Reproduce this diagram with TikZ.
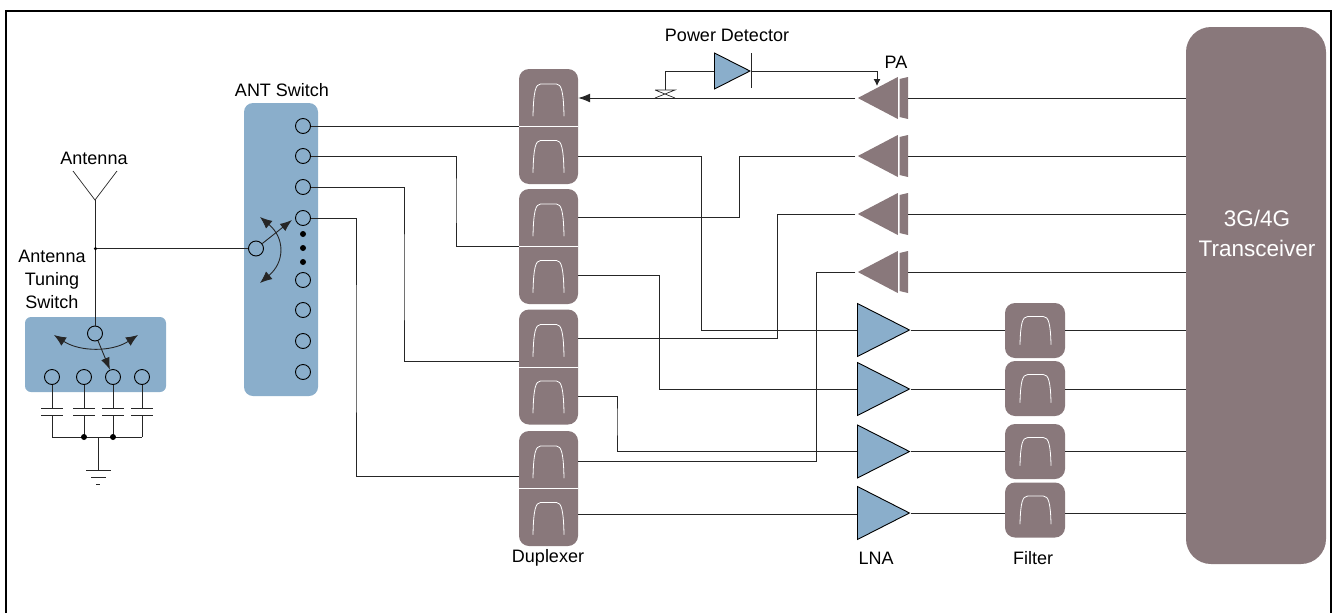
\documentclass[tikz,border=0pt]{standalone}
\usepackage{fontspec}
\setmainfont{Liberation Sans}
\usetikzlibrary{arrows.meta,shapes.geometric,calc}
\definecolor{swblue}{HTML}{8AAECB}
\definecolor{chipgray}{HTML}{89787B}
\begin{document}
\begin{tikzpicture}[x=1pt,y=-1pt,
    wire/.style={draw=black!85,line width=0.9pt},
    arr/.style={wire,-{Latex[length=12pt,width=9pt]}},
    swarr/.style={wire,{Latex[length=12pt,width=10pt]}-{Latex[length=12pt,width=10pt]}},
    lbl/.style={inner sep=0pt,font=\fontsize{18}{23}\selectfont,align=center},
    pin/.style={circle,draw=black,line width=0.9pt,inner sep=0pt,minimum size=15pt},
    junc/.style={circle,fill=black,inner sep=0pt,minimum size=#1},
    swbox/.style={draw=none,fill=swblue,rounded corners=6pt,inner sep=0pt},
    chip/.style={draw=none,fill=chipgray,rounded corners=10pt,inner sep=0pt,minimum width=59pt},
    lna/.style={isosceles triangle,isosceles triangle stretches,draw=black,line width=0.9pt,fill=swblue,inner sep=0pt,minimum width=53pt,minimum height=52pt},
    pa/.style={isosceles triangle,isosceles triangle stretches,shape border rotate=180,fill=chipgray,inner sep=0pt,minimum width=42pt,minimum height=40pt},
    bandpass/.pic={\draw[white,line width=0.8pt,line cap=round] (-15.5,16) .. controls (-15,-8) and (-13,-16) .. (-8,-16) -- (8,-16) .. controls (13,-16) and (15,-8) .. (15.5,16);}]
  \useasboundingbox (0,0) rectangle (1332,613);
  \draw[line width=2pt] (6,613) -- (6,11) -- (1330.5,11) -- (1330.5,613);

  % antenna and tuning switch
  \node[swbox,minimum width=141pt,minimum height=75pt] (tunebox) at (95.5,354.5) {};
  \node[pin] (tunepole) at (95,333.5) {};
  \foreach \i/\x in {1/52,2/84,3/113,4/142} {
    \node[pin] (tune\i) at (\x,377) {};
    \coordinate (capa\i) at (\x,408);
    \coordinate (capb\i) at (\x,415);
    \draw[wire] (tune\i) -- (capa\i);
    \draw[wire] ($(capa\i)+(-11,0)$) -- ($(capa\i)+(11,0)$);
    \draw[wire] ($(capb\i)+(-11,0)$) -- ($(capb\i)+(11,0)$);
    \coordinate (bus\i) at (\x,437);
    \draw[wire] (capb\i) -- (bus\i);
  }
  \draw[wire] (bus1) -- (bus4);
  \node[junc=6pt] (busj2) at (bus2) {};
  \node[junc=6pt] (busj3) at (bus3) {};
  \coordinate (gnd) at (98.5,470);
  \draw[wire] (98.5,437) -- (gnd);
  \draw[wire] (86,470) -- (111,470);
  \draw[wire] (91,477) -- (106,477);
  \draw[wire] (96,484) -- (100,484);
  \draw[arr] (tunepole) -- (tune3);
  \draw[swarr] (54,335) .. controls (80,352) and (112,352) .. (138,335);
  \coordinate (antfeed) at (95,200);
  \draw[wire,line width=0.7pt] (73,171) -- (antfeed) -- (117,171);
  \draw[wire] (antfeed) -- (tunepole);
  \node[junc=3.5pt] (antj) at (95.5,248.5) {};
  \node[lbl] (antlbl) at (94,158) {Antenna};
  \node[lbl] (tunelbl) at (52,279) {Antenna\\Tuning\\Switch};

  % ANT switch
  \node[swbox,minimum width=74pt,minimum height=293pt,rounded corners=9pt] (antbox) at (281,249.5) {};
  \foreach \i/\y in {1/126,2/156,3/187,4/218,5/280,6/310,7/341,8/372}
    \node[pin] (ant\i) at (303,\y) {};
  \foreach \y in {234,248,262}
    \node[junc=6pt] (antdot\y) at (303,\y) {};
  \node[pin] (antpole) at (256,248.5) {};
  \draw[wire] (antj) -- (antpole);
  \draw[arr] (antpole) -- (292,220);
  \draw[swarr] (260,217) .. controls (285,238) and (285,262) .. (260,283);
  \node[lbl] (antswlbl) at (282,90) {ANT Switch};

  % duplexers
  \foreach \i/\y in {1/126.5,2/246.5,3/367,4/488.5} {
    \node[chip,minimum height=115pt] (dup\i) at (548.5,\y) {};
    \draw[white,line width=0.9pt] (dup\i.west) -- (dup\i.east);
    \pic at (548.5,\y-26.5) {bandpass};
    \pic at (548.5,\y+30) {bandpass};
  }
  \node[lbl] (duplbl) at (548,558) {Duplexer};

  % transceiver
  \node[chip,minimum width=140pt,minimum height=537pt,rounded corners=25pt] (trx) at (1256,295.5) {};
  \node[lbl,font=\fontsize{22.5}{30}\selectfont,text=white] (trxlbl) at (1257,233) {3G/4G\\Transceiver};

  % PA row
  \foreach \i/\y in {1/98,2/156,3/214,4/272} {
    \node[pa,anchor=lower side] (pa\i) at (898,\y) {};
    \fill[chipgray] (899.5,\y-19) -- (908,\y-21) -- (908,\y+21) -- (899.5,\y+19) -- cycle;
    \coordinate (patail\i) at (908,\y);
    \draw[wire] (patail\i) -- (trx.west |- patail\i);
  }
  \node[lbl] (palbl) at (896,62) {PA};

  % LNA row and filters
  \foreach \i/\y/\fy in {1/330/330.5,2/389/388.5,3/451.5/451.5,4/513/510} {
    \node[lna,anchor=lower side] (lna\i) at (857,\y) {};
    \node[chip,minimum width=60pt,minimum height=55pt] (filt\i) at (1035,\fy) {};
    \pic[yscale=0.87] at (1035.5,\fy) {bandpass};
    \draw[wire] (lna\i.apex) -- (filt\i.west |- lna\i.apex);
    \draw[wire] (filt\i.east |- lna\i.apex) -- (trx.west |- lna\i.apex);
  }
  \node[lbl] (lnalbl) at (876,558) {LNA};
  \node[lbl] (filtlbl) at (1033,558) {Filter};

  % switch to duplexer
  \draw[wire] (ant1) -- (dup1.west |- ant1);
  \draw[wire] (ant2) -| (456,200) |- (dup2.west);
  \draw[wire] (ant3) -| (404,280) |- (dup3.west |- 0,361);
  \draw[wire] (ant4) -| (356,350) |- (dup4.west |- 0,476);

  % PA to duplexer
  \draw[arr,shorten <=2pt] (pa1.apex) -- (dup1.east |- pa1.apex);
  \draw[wire,shorten <=2pt] (pa2.apex) -| (739,190) |- (dup2.east |- 0,217);
  \draw[wire,shorten <=2pt] (pa3.apex) -| (777,280) |- (dup3.east |- 0,338);
  \draw[wire,shorten <=2pt] (pa4.apex) -| (816,380) |- (dup4.east |- 0,461);

  % duplexer to LNA
  \draw[wire] (dup1.east |- 0,156) -| (701,250) |- (lna1.lower side);
  \draw[wire] (dup2.east |- 0,275) -| (659,330) |- (lna2.lower side);
  \draw[wire] (dup3.east |- 0,396) -| (617,420) |- (lna3.lower side);
  \draw[wire] (dup4.east |- 0,514.5) -- (lna4.lower side |- 0,514.5);

  % power detector
  \node[lna,anchor=lower side,minimum width=36pt,minimum height=35.5pt] (det) at (714,71) {};
  \draw[wire] (det.apex |- 0,53) -- (det.apex |- 0,88);
  \node[lbl] (detlbl) at (727,35) {Power Detector};
  \coordinate (coup) at (665,90);
  \draw[wire] (det.lower side) -| (coup);
  \draw[wire,line width=0.7pt] (655,90) -- (675,90) -- (655,98) (675,98) -- (655,90);
  \coordinate (padet) at (877,86);
  \draw[wire,-{Latex[length=7pt,width=7pt]}] (det.apex) -| (padet);
\end{tikzpicture}
\end{document}
